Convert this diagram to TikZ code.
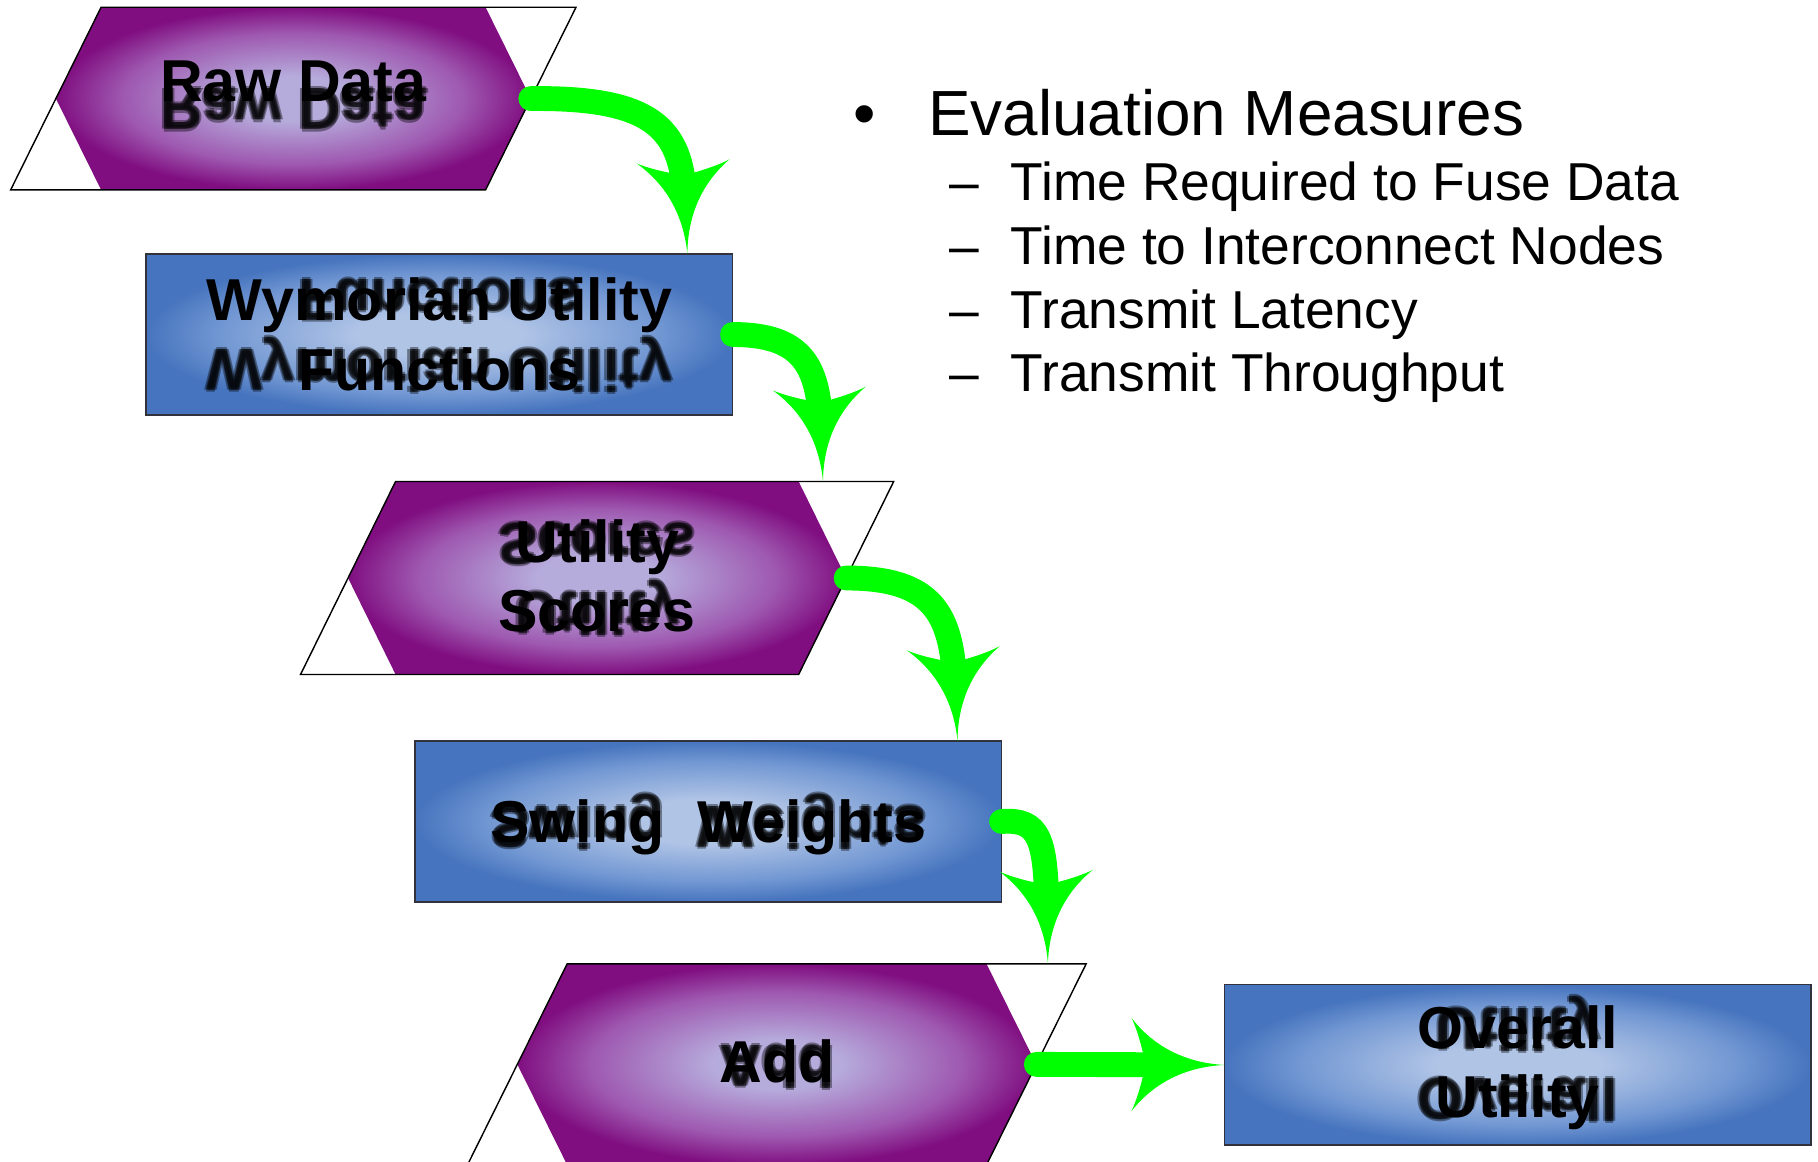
\documentclass[tikz,border=0pt]{standalone}
\usepackage{fontspec}
\setmainfont{Liberation Sans}
\usetikzlibrary{calc,arrows.meta}

% colours
\definecolor{purdark}{RGB}{128,14,128}
\definecolor{purmid}{RGB}{158,88,176}
\definecolor{purlight}{RGB}{182,172,220}
\definecolor{bluedark}{RGB}{70,116,190}
\definecolor{bluemid}{RGB}{112,150,210}
\definecolor{bluelight}{RGB}{176,196,230}
\definecolor{flowgreen}{RGB}{0,255,0}
\definecolor{boxedge}{RGB}{50,50,60}

% soft centre-to-edge fills
\pgfdeclareradialshading{purpleglow}{\pgfpoint{0bp}{0bp}}{%
  color(0bp)=(purlight); color(6bp)=(purlight); color(18bp)=(purmid);
  color(25bp)=(purdark); color(50bp)=(purdark)}
\pgfdeclareradialshading{blueglow}{\pgfpoint{0bp}{0bp}}{%
  color(0bp)=(bluelight); color(7bp)=(bluelight); color(19bp)=(bluemid);
  color(25bp)=(bluedark); color(50bp)=(bluedark)}

% arrow head with concave flanks and swept-back barbs
\pgfdeclarearrow{
  name = Swoop,
  defaults = {length = 22.8pt, width = 22.8pt},
  parameters = {\the\pgfarrowlength,\the\pgfarrowwidth},
  setup code = {
    \pgfarrowssettipend{0pt}
    \pgfarrowssetbackend{-\pgfarrowlength}
    \pgfarrowssetlineend{-.6\pgfarrowlength}
    \pgfarrowssetvisualbackend{-.85\pgfarrowlength}
    \pgfarrowshullpoint{0pt}{0pt}
    \pgfarrowsupperhullpoint{-\pgfarrowlength}{.5\pgfarrowwidth}
    \pgfarrowssavethe\pgfarrowlength
    \pgfarrowssavethe\pgfarrowwidth
  },
  drawing code = {
    \pgfpathmoveto{\pgfpointorigin}
    \pgfpathcurveto{\pgfpoint{-.40\pgfarrowlength}{.02\pgfarrowwidth}}
                   {\pgfpoint{-.75\pgfarrowlength}{.18\pgfarrowwidth}}
                   {\pgfpoint{-\pgfarrowlength}{.5\pgfarrowwidth}}
    \pgfpathcurveto{\pgfpoint{-.93\pgfarrowlength}{.35\pgfarrowwidth}}
                   {\pgfpoint{-.88\pgfarrowlength}{.15\pgfarrowwidth}}
                   {\pgfpoint{-.85\pgfarrowlength}{0pt}}
    \pgfpathcurveto{\pgfpoint{-.88\pgfarrowlength}{-.15\pgfarrowwidth}}
                   {\pgfpoint{-.93\pgfarrowlength}{-.35\pgfarrowwidth}}
                   {\pgfpoint{-\pgfarrowlength}{-.5\pgfarrowwidth}}
    \pgfpathcurveto{\pgfpoint{-.75\pgfarrowlength}{-.18\pgfarrowwidth}}
                   {\pgfpoint{-.40\pgfarrowlength}{-.02\pgfarrowwidth}}
                   {\pgfpointorigin}
    \pgfpathclose
    \pgfusepathqfill
  }
}

\tikzset{
  iobox/.style={rectangle, inner sep=0pt},
  procbox/.style={rectangle, inner sep=0pt, minimum width=5.04cm, minimum height=1.37cm},
  frameline/.style={draw=black, line width=0.35pt},
  lbl/.style={font=\bfseries\fontsize{14.5pt}{17.07pt}\selectfont, align=center, inner sep=0pt, text=black},
  ghosttext/.style={lbl, opacity=0.4, yscale=-1, transform shape},
  flow/.style={color=flowgreen, line width=6.1pt, line cap=round, -{Swoop[fill=flowgreen]}},
  bigitem/.style={font=\fontsize{15.65pt}{18pt}\selectfont, inner sep=0pt},
  subitem/.style={font=\fontsize{13.09pt}{15pt}\selectfont, inner sep=0pt},
}

% slanted data frame with its shaded hexagonal face
\newcommand\dataframe[2]{%
  \shade[shading=purpleglow] (#1.north west) -- (#1.north east) -- ($(#1.east)+(#2,0)$)
    -- (#1.south east) -- (#1.south west) -- ($(#1.west)+(-#2,0)$) -- cycle;
  \draw[frameline] (#1.north west) -- ($(#1.north east)+(2*#2,0)$)
    -- (#1.south east) -- ($(#1.south west)+(-2*#2,0)$) -- cycle;
}
% shaded process box
\newcommand\procframe[1]{%
  \shadedraw[shading=blueglow, draw=boxedge, line width=0.4pt]
    (#1.north west) rectangle (#1.south east);
}
% blurred, vertically mirrored echo of a label
\newcommand\echo[3]{%
  \foreach \gx/\gy [count=\gi] in {0/0, 1.8/0, -1.8/0, 0/1.8, 0/-1.8}
    \node[ghosttext] (#1-\gi) at ($#2+(\gx,\gy)$) {#3};
}

\begin{document}
\begin{tikzpicture}[x=0.01cm, y=-0.01cm]
\useasboundingbox (0,0) rectangle (1568,1002);
\fill[white] (0,0) rectangle (1568,1002);

% process chain
\node[iobox, minimum width=3.30cm, minimum height=1.56cm] (raw) at (253,85) {};
\node[procbox] (wym) at (379,288.5) {};
\node[iobox, minimum width=3.46cm, minimum height=1.65cm] (scores) at (515,498.5) {};
\node[procbox] (swing) at (611,708.5) {};
\node[iobox, minimum width=3.60cm, minimum height=1.72cm] (add) at (670,918) {};
\node[procbox] (overall) at (1309,918.5) {};

\dataframe{raw}{39}
\procframe{wym}
\dataframe{scores}{41}
\procframe{swing}
\dataframe{add}{43}
\procframe{overall}

% mirrored echoes
\echo{raw-echo}{(253,94)}{Raw Data}
\echo{wym-echo}{(379,289.5)}{Wymorian Utility\\Functions}
\echo{scores-echo}{(515,499.5)}{Utility\\Scores}
\echo{swing-echo}{(611,708.6)}{Swing~ Weights}
\echo{add-echo}{(670,920)}{Add}
\echo{overall-echo}{(1309,913)}{Overall\\Utility}

% labels
\node[lbl] (raw-label) at (253,70) {Raw Data};
\node[lbl] (wym-label) at (379,288.5) {Wymorian Utility\\Functions};
\node[lbl] (scores-label) at (515,496.5) {Utility\\Scores};
\node[lbl] (swing-label) at (611,713.4) {Swing~ Weights};
\node[lbl] (add-label) at (670,915) {Add};
\node[lbl] (overall-label) at (1309,921) {Overall\\Utility};

% connector end points
\coordinate (raw-out) at ($(raw.east)+(39,0)$);
\coordinate (scores-out) at ($(scores.east)+(41,0)$);
\coordinate (add-out) at ($(add.east)+(43,0)$);
\coordinate (wym-in) at ($(wym.north east)+(-39,0)$);
\coordinate (scores-in) at ($(scores.north east)+(21,0)$);
\coordinate (swing-in) at ($(swing.north east)+(-38,0)$);
\coordinate (add-in) at ($(add.north east)+(53,0)$);

% green flow arrows
\draw[flow] (raw-out) .. controls +(103,-1) and +(-5,-110) .. (wym-in);
\draw[flow] (wym.east) .. controls +(60,0) and +(-4,-100) .. (scores-in);
\draw[flow] (scores-out) .. controls +(75,0) and +(-5,-110) .. (swing-in);
\draw[flow] (swing.east) .. controls +(33,-2.5) and +(-2,-107) .. (add-in);
\draw[flow] (add-out) -- (overall.west);

% evaluation measures
\node[bigitem, anchor=base] (bullet) at (746,117) {•};
\node[bigitem, anchor=base west] (measures) at (800,117) {Evaluation Measures};
\node[subitem, anchor=base west] (dash1) at (818,173) {–};
\node[subitem, anchor=base west] (m1) at (871,173) {Time Required to Fuse Data};
\node[subitem, anchor=base west] (dash2) at (818,228) {–};
\node[subitem, anchor=base west] (m2) at (871,228) {Time to Interconnect Nodes};
\node[subitem, anchor=base west] (dash3) at (818,283) {–};
\node[subitem, anchor=base west] (m3) at (871,283) {Transmit Latency};
\node[subitem, anchor=base west] (dash4) at (818,338) {–};
\node[subitem, anchor=base west] (m4) at (871,338) {Transmit Throughput};
\end{tikzpicture}
\end{document}
